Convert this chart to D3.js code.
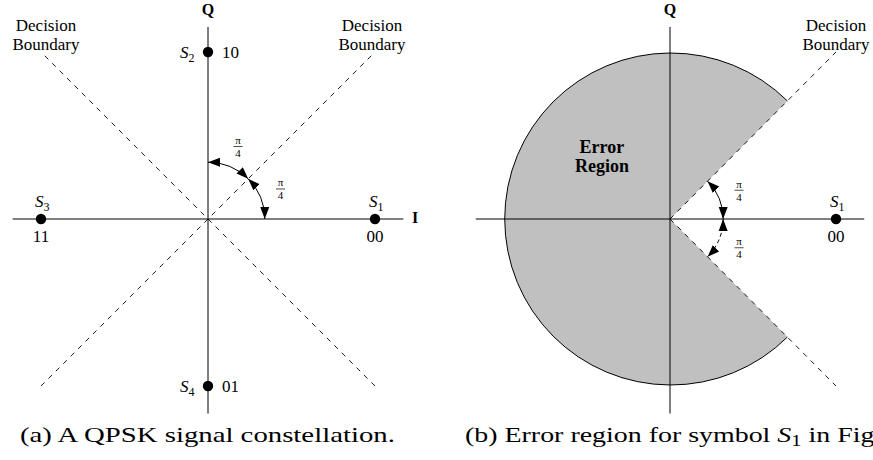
<!DOCTYPE html>
<html lang="en">
<head>
<meta charset="utf-8">
<script src="https://d3js.org/d3.v7.min.js"></script>
<style>
  body { margin: 0; background: #fff; }
  svg { display: block; font-family: "Liberation Serif", "Times New Roman", serif; }
</style>
</head>
<body>
<svg width="873" height="460"></svg>
<script>
// QPSK constellation symbols
var symbolNames = ["S1", "S2", "S3", "S4"];
var symbolBits  = ["00", "10", "11", "01"];
var symbolI     = [1, 0, -1, 0];
var symbolQ     = [0, 1, 0, -1];

// decision boundaries, error region of S1 and the pi/4 angle arcs (degrees)
var boundaryAngles = [45, 135];
var errorRegion    = [45, 315];
var arcsA = [[90, 45], [45, 0]];
var arcsB = [[45, 0], [0, -45]];

var captionA = "(a) A QPSK signal constellation.";
var captionB = ["(b) Error region for symbol ", "S", "1", " in Figure (a)."];

var svg = d3.select("svg");
var rad = Math.PI / 180;

svg.append("defs").append("marker")
   .attr("id", "head")
   .attr("markerUnits", "userSpaceOnUse")
   .attr("markerWidth", 14).attr("markerHeight", 12)
   .attr("viewBox", "0 -6 14 12")
   .attr("refX", 12).attr("refY", 0)
   .attr("orient", "auto-start-reverse")
   .append("path")
   .attr("d", "M0,-4.5L12,0L0,4.5Z")
   .attr("fill", "#000");

function panel(x0, x1) {
  var p = {};
  p.x = d3.scaleLinear().domain([-1, 1]).range([x0, x1]);
  p.y = d3.scaleLinear().domain([-1, 1]).range([386, 52]);
  p.g = svg.append("g");
  p.pt = function(a, r) {
    return [p.x(r * Math.cos(a * rad)), p.y(r * Math.sin(a * rad))];
  };
  p.radius = function(r) { return p.x(r) - p.x(0); };
  return p;
}

function drawAxes(p) {
  p.g.append("line")
     .attr("x1", p.x(-1.17)).attr("x2", p.x(1.17))
     .attr("y1", p.y(0)).attr("y2", p.y(0))
     .attr("stroke", "#000").attr("stroke-width", 1);
  p.g.append("line")
     .attr("x1", p.x(0)).attr("x2", p.x(0))
     .attr("y1", p.y(1.15)).attr("y2", p.y(-1.165))
     .attr("stroke", "#000").attr("stroke-width", 1);
  p.g.append("text")
     .attr("x", p.x(0)).attr("y", p.y(1.22))
     .attr("text-anchor", "middle")
     .attr("font-weight", "bold").attr("font-size", 16)
     .text("Q");
  p.g.append("text")
     .attr("x", p.x(1.24)).attr("y", p.y(0) + 4)
     .attr("text-anchor", "middle")
     .attr("font-weight", "bold").attr("font-size", 16)
     .text("I");
}

function dashed(p, a0, r0, a1, r1) {
  var s = p.pt(a0, r0), e = p.pt(a1, r1);
  p.g.append("line")
     .attr("x1", s[0]).attr("y1", s[1]).attr("x2", e[0]).attr("y2", e[1])
     .attr("stroke", "#000").attr("stroke-width", 0.9)
     .attr("stroke-dasharray", "5,5.5");
}

function boundaryLabel(p, cx) {
  var t = p.g.append("text").attr("text-anchor", "middle").attr("font-size", 17);
  t.append("tspan").attr("x", cx).attr("y", 31).text("Decision");
  t.append("tspan").attr("x", cx).attr("y", 50).text("Boundary");
}

function angleArc(p, a0, a1, r, dash) {
  var s = p.pt(a0, r), e = p.pt(a1, r), R = p.radius(r);
  p.g.append("path")
     .attr("d", "M" + s + "A" + R + "," + R + " 0 0 1 " + e)
     .attr("fill", "none").attr("stroke", "#000").attr("stroke-width", 1)
     .attr("stroke-dasharray", dash ? "4,3" : null)
     .attr("marker-start", "url(#head)")
     .attr("marker-end", "url(#head)");
  var c = p.pt((a0 + a1) / 2, r + 0.13);
  var f = p.g.append("g").attr("transform", "translate(" + c + ")");
  f.append("text").attr("y", -2.6).attr("text-anchor", "middle").attr("font-size", 11).text("π");
  f.append("line").attr("x1", -4.5).attr("x2", 4.5).attr("stroke", "#000").attr("stroke-width", 0.7);
  f.append("text").attr("y", 10.3).attr("text-anchor", "middle").attr("font-size", 11).text("4");
}

function symbolLabel(sel, name, size) {
  sel.append("tspan").attr("font-style", "italic").text(name[0]);
  sel.append("tspan").attr("font-size", size).attr("dy", 4).text(name.slice(1));
}

function drawSymbol(p, i) {
  var cx = p.x(symbolI[i]), cy = p.y(symbolQ[i]);
  p.g.append("circle").attr("cx", cx).attr("cy", cy).attr("r", 5.2).attr("fill", "#000");
  var name = p.g.append("text").attr("font-size", 17);
  var bits = p.g.append("text").attr("font-size", 17).text(symbolBits[i]);
  if (symbolQ[i] === 0) {
    name.attr("x", cx - 6).attr("y", cy - 12);
    bits.attr("x", cx).attr("y", cy + 23).attr("text-anchor", "middle");
  } else {
    name.attr("x", cx - 28).attr("y", cy + 6);
    bits.attr("x", cx + 14).attr("y", cy + 6);
  }
  symbolLabel(name, symbolNames[i], 12);
}

// (a) constellation
var A = panel(41, 375);
drawAxes(A);
boundaryAngles.forEach(function(a) { dashed(A, a + 180, Math.SQRT2, a, Math.SQRT2); });
boundaryLabel(A, 46);
boundaryLabel(A, 372);
arcsA.forEach(function(d) { angleArc(A, d[0], d[1], 0.34, false); });
symbolNames.forEach(function(d, i) { drawSymbol(A, i); });

// (b) error region of S1
var B = panel(504, 836);
var R = B.radius(1);
var e0 = B.pt(errorRegion[0], 1), e1 = B.pt(errorRegion[1], 1);
B.g.append("path")
   .attr("d", "M" + B.x(0) + "," + B.y(0) + "L" + e0 + "A" + R + "," + R + " 0 1 0 " + e1 + "Z")
   .attr("fill", "#c0c0c0");
B.g.append("path")
   .attr("d", "M" + e0 + "A" + R + "," + R + " 0 1 0 " + e1)
   .attr("fill", "none").attr("stroke", "#000").attr("stroke-width", 1);
drawAxes(B);
dashed(B, 0, 0, errorRegion[0], Math.SQRT2);
dashed(B, 0, 0, errorRegion[1], Math.SQRT2);
boundaryLabel(B, 836);
var er = B.g.append("text").attr("text-anchor", "middle").attr("font-size", 18).attr("font-weight", "bold");
er.append("tspan").attr("x", B.x(-0.41)).attr("y", 153).text("Error");
er.append("tspan").attr("x", B.x(-0.41)).attr("y", 172).text("Region");
arcsB.forEach(function(d, k) { angleArc(B, d[0], d[1], 0.32, k === 1); });
drawSymbol(B, 0);

// captions
var capA = svg.append("text").attr("font-size", 22).text(captionA);
var k = 375 / capA.node().getComputedTextLength();
capA.attr("transform", "translate(20,442) scale(" + k + ",1)");
var capB = svg.append("text").attr("font-size", 22)
   .attr("transform", "translate(465,442) scale(" + (k * 0.97) + ",1)");
capB.append("tspan").text(captionB[0]);
capB.append("tspan").attr("font-style", "italic").text(captionB[1]);
capB.append("tspan").attr("font-size", 16).attr("dy", 4).text(captionB[2]);
capB.append("tspan").attr("dy", -4).text(captionB[3]);
</script>
</body>
</html>
